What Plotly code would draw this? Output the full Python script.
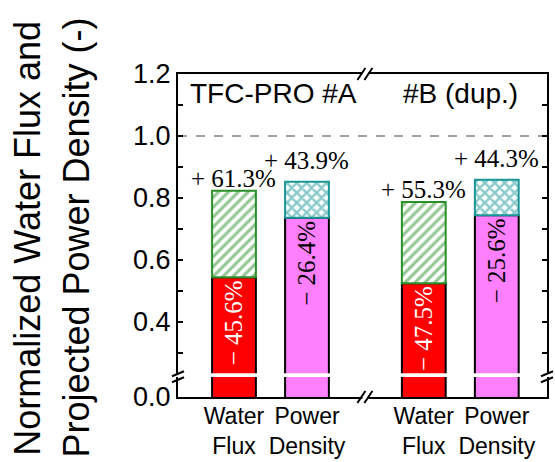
import plotly.graph_objects as go

# ---------------- data ----------------
group_labels = ["TFC-PRO #A", "#B (dup.)"]
title_lines = ["Normalized Water Flux and", "Projected Power Density (-)"]
categories = ["Water<br>Flux", "Power<br>Density", "Water<br>Flux", "Power<br>Density"]
x_positions = [1.0, 2.0, 3.6, 4.6]
measured_values = [0.544, 0.736, 0.525, 0.744]      # normalized (solid bars)
projected_values = [0.823, 0.852, 0.787, 0.859]     # projected (top of hatched part)
decrease_labels = ["\u2212 45.6%", "\u2212 26.4%", "\u2212 47.5%", "\u2212 25.6%"]
increase_labels = ["+ 61.3%", "+ 43.9%", "+ 55.3%", "+ 44.3%"]
y_tick_values = [0.1577, 0.4, 0.6, 0.8, 1.0, 1.2]
y_tick_labels = ["0.0", "0.4", "0.6", "0.8", "1.0", "1.2"]
y_minor_ticks = [0.3, 0.5, 0.7, 0.9, 1.1]
reference_level = 1.0
break_level = 0.228

# ---------------- styles ----------------
solid_colors = ["#FF0000", "#FF80FF", "#FF0000", "#FF80FF"]
solid_text_colors = ["white", "black", "white", "black"]
hatch_shapes = ["/", "x", "/", "x"]
hatch_colors = ["#2A902A", "#1A9696", "#2A902A", "#1A9696"]
hatch_solidity = [0.45, 0.6, 0.45, 0.6]
label_shift = [-3, 6, -3, 6]
SANS = "Liberation Sans, Arial, sans-serif"
SERIF = "Liberation Serif, Times New Roman, serif"
BAR_W = 0.6

fig = go.Figure()

fig.add_trace(go.Bar(
    x=x_positions, y=measured_values, width=BAR_W,
    marker=dict(color=solid_colors, line=dict(color="black", width=2)),
    text=decrease_labels, textposition="inside", insidetextanchor="end",
    textangle=-90, constraintext="none",
    textfont=dict(family=SERIF, size=25, color=solid_text_colors),
    hoverinfo="skip", showlegend=False,
))

fig.add_trace(go.Bar(
    x=x_positions,
    y=[p - m for p, m in zip(projected_values, measured_values)],
    base=measured_values, width=BAR_W,
    marker=dict(color="white",
                pattern=dict(shape=hatch_shapes, fgcolor=hatch_colors,
                             bgcolor="white", size=7, solidity=hatch_solidity),
                line=dict(color=hatch_colors, width=2)),
    hoverinfo="skip", showlegend=False,
))

for xp, yp, lab, sh in zip(x_positions, projected_values, increase_labels, label_shift):
    fig.add_annotation(x=xp, y=yp, text=lab, showarrow=False, xanchor="center",
                       yanchor="bottom", yshift=sh,
                       font=dict(family=SERIF, size=25, color="black"))

# group labels
fig.add_annotation(xref="paper", yref="paper", x=0.027, y=0.941, text=group_labels[0],
                   showarrow=False, xanchor="left", yanchor="middle",
                   font=dict(family=SANS, size=28, color="black"))
fig.add_annotation(xref="paper", yref="paper", x=0.604, y=0.941, text=group_labels[1],
                   showarrow=False, xanchor="left", yanchor="middle",
                   font=dict(family=SANS, size=28, color="black"))

# y-axis title (two rotated lines)
for xt, line in zip([-0.41, -0.275], title_lines):
    fig.add_annotation(xref="paper", yref="paper", x=xt, y=0.492, text=line,
                       textangle=-90, showarrow=False, xanchor="center", yanchor="middle",
                       font=dict(family=SANS, size=36, color="black"))

shapes = []
# reference dashed line at 1.0
shapes.append(dict(type="line", xref="paper", yref="y", x0=0, x1=1,
                   y0=reference_level, y1=reference_level,
                   line=dict(color="#A0A0A0", width=2, dash="dash"), layer="below"))
# white band for the broken y axis
shapes.append(dict(type="rect", xref="paper", yref="y", x0=-0.02, x1=1.02,
                   y0=break_level - 0.006, y1=break_level + 0.006,
                   fillcolor="white", line=dict(width=0), layer="above"))
# break marks on left/right axis
for xa in [0, 1]:
    for dy in [-5, 1]:
        shapes.append(dict(type="line", xref="paper", yref="y",
                           xsizemode="pixel", ysizemode="pixel",
                           xanchor=xa, yanchor=break_level,
                           x0=-6, x1=6, y0=dy - 2, y1=dy + 3,
                           line=dict(color="black", width=2), layer="above"))
# break marks on top/bottom axis between the groups
x_break = (x_positions[1] + x_positions[2]) / 2
for ya in [0, 1]:
    shapes.append(dict(type="rect", xref="x", yref="paper",
                       xsizemode="pixel", ysizemode="pixel",
                       xanchor=x_break, yanchor=ya, x0=-3, x1=3, y0=-2, y1=2,
                       fillcolor="white", line=dict(width=0), layer="above"))
    for dx in [-4, 3]:
        shapes.append(dict(type="line", xref="x", yref="paper",
                           xsizemode="pixel", ysizemode="pixel",
                           xanchor=x_break, yanchor=ya,
                           x0=dx - 4, x1=dx + 4, y0=-6, y1=6,
                           line=dict(color="black", width=2), layer="above"))

fig.update_layout(
    width=555, height=462,
    margin=dict(l=178, r=8, t=74, b=65),
    paper_bgcolor="white", plot_bgcolor="white",
    barmode="overlay", showlegend=False,
    shapes=shapes,
    font=dict(family=SANS, size=24, color="black"),
)

fig.update_xaxes(
    range=[0.233, 5.288], tickvals=x_positions, ticktext=categories,
    tickangle=0, automargin=False, ticklabelstandoff=-3,
    showline=True, linecolor="black", linewidth=2, mirror=True,
    ticks="", showgrid=False, zeroline=False,
    tickfont=dict(family=SANS, size=23, color="black"),
)
fig.update_yaxes(
    range=[y_tick_values[0], 1.2], tickvals=y_tick_values, ticktext=y_tick_labels,
    automargin=False,
    showline=True, linecolor="black", linewidth=2, mirror="allticks",
    ticks="inside", ticklen=5, tickwidth=2, tickcolor="black",
    ticklabelstandoff=0,
    minor=dict(tickvals=y_minor_ticks, ticks="inside", ticklen=5, tickwidth=2,
               tickcolor="black", showgrid=False),
    showgrid=False, zeroline=False,
    tickfont=dict(family=SANS, size=27, color="black"),
)

fig.write_html("out.html", config={"displayModeBar": False},
               post_script="document.body.style.margin='0px';document.body.style.overflow='hidden';")
